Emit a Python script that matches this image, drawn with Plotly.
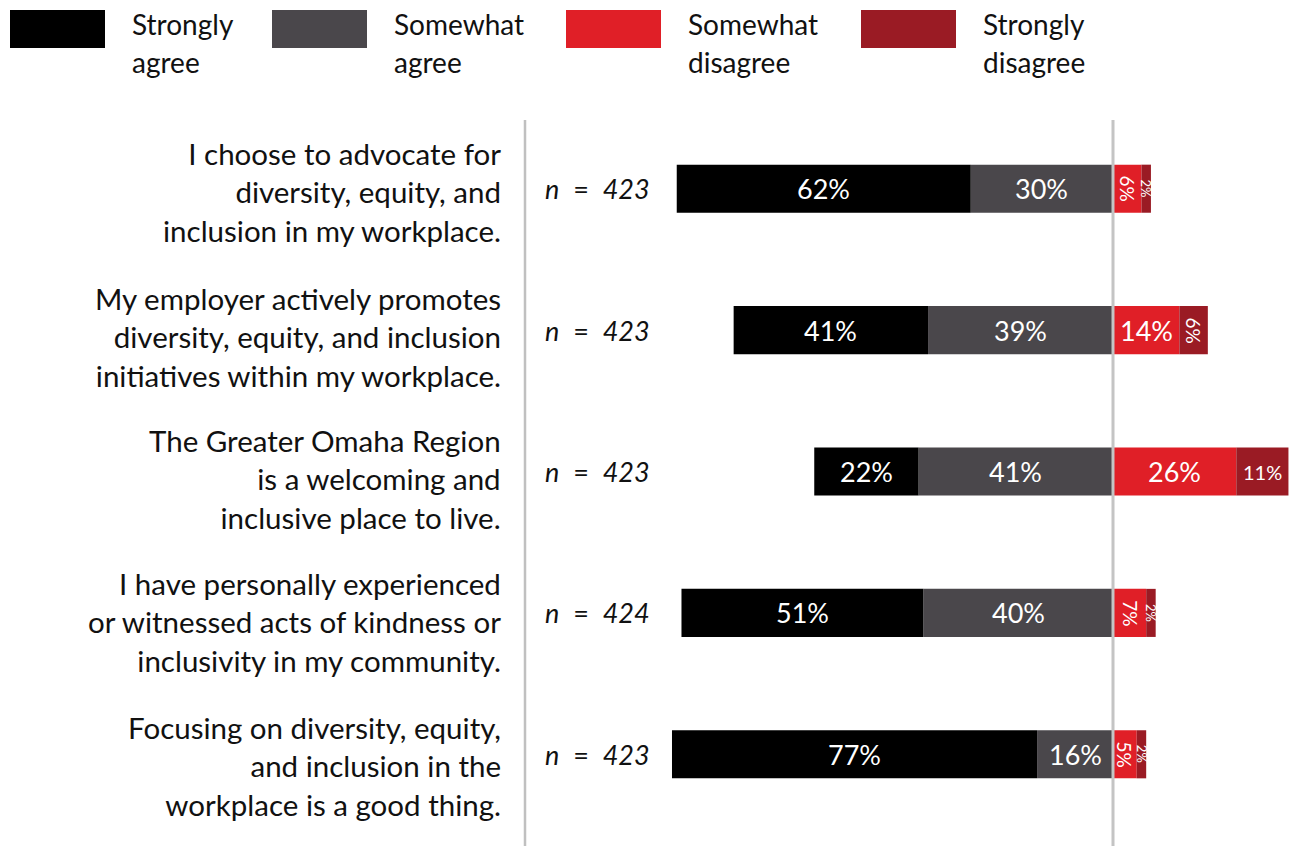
import plotly.graph_objects as go

statements = [
    "I choose to advocate for<br>diversity, equity, and<br>inclusion in my workplace.",
    "My employer actively promotes<br>diversity, equity, and inclusion<br>initiatives within my workplace.",
    "The Greater Omaha Region<br>is a welcoming and<br>inclusive place to live.",
    "I have personally experienced<br>or witnessed acts of kindness or<br>inclusivity in my community.",
    "Focusing on diversity, equity,<br>and inclusion in the<br>workplace is a good thing.",
]
n_values = [423, 423, 423, 424, 423]
strongly_agree = [62, 41, 22, 51, 77]
somewhat_agree = [30, 39, 41, 40, 16]
somewhat_disagree = [6, 14, 26, 7, 5]
strongly_disagree = [2, 6, 11, 2, 2]
legend_line1 = ["Strongly", "Somewhat", "Somewhat", "Strongly"]
legend_line2 = ["agree", "agree", "disagree", "disagree"]

C_SA = "#000000"
C_A = "#4a474b"
C_D = "#e01f27"
C_SD = "#9a1b24"
FONT = "Lato"

# the page body has an 8px margin; work in reference-pixel coordinates and shift
OFF = 8
W, H = 1298 - OFF, 846 - OFF
PLOT_L, PLOT_R, PLOT_T, PLOT_B = 525, 1298, 118, 825  # reference pixels
ML, MR, MT, MB = PLOT_L - OFF, 1298 - PLOT_R, PLOT_T - OFF, 846 - PLOT_B
PW, PH = PLOT_R - PLOT_L, PLOT_B - PLOT_T
CENTER = 1113
PX_PER_PCT = 4.742
LABEL_YSHIFT = [-3, -7, -7, -9, -12]


def px_x(p):
    return (p - PLOT_L) / PW


def px_y(p):
    return (PLOT_B - p) / PH


cats = list(range(len(statements)))
fig = go.Figure()
neg = lambda v: [-x for x in v]
for vals, col in [(neg(somewhat_agree), C_A), (neg(strongly_agree), C_SA),
                  (somewhat_disagree, C_D), (strongly_disagree, C_SD)]:
    fig.add_trace(go.Bar(y=cats, x=vals, orientation="h", marker=dict(color=col, line=dict(width=0)),
                         width=0.34, hoverinfo="skip"))

annotations = []


def pct_label(xc, yc, v):
    t = f"{v}%"
    if v >= 12:
        annotations.append(dict(x=xc, y=yc, text=t, showarrow=False, font=dict(family=FONT, size=27, color="white")))
    elif v >= 10:
        annotations.append(dict(x=xc, y=yc, text=t, showarrow=False, font=dict(family=FONT, size=20, color="white")))
    else:
        size = 13 if v <= 2 else 19
        annotations.append(dict(x=xc, y=yc, text=t, showarrow=False, textangle=90,
                                font=dict(family=FONT, size=size, color="white")))


for i in cats:
    a, sa, d, sd = somewhat_agree[i], strongly_agree[i], somewhat_disagree[i], strongly_disagree[i]
    pct_label(-a / 2, i, a)
    pct_label(-a - sa / 2, i, sa)
    pct_label(d / 2, i, d)
    pct_label(d + sd / 2, i, sd)
    annotations.append(dict(xref="paper", x=px_x(503), y=i, yref="y", yshift=LABEL_YSHIFT[i], text=statements[i],
                            showarrow=False, xanchor="right", align="right",
                            font=dict(family=FONT, size=29.5, color="#111111")))
    annotations.append(dict(xref="paper", x=px_x(597), y=i, yref="y", text=f"<i>n</i>  =  <i>{n_values[i]}</i>",
                            showarrow=False, xanchor="center", font=dict(family=FONT, size=27, color="#111111")))

shapes = []
leg_colors = [C_SA, C_A, C_D, C_SD]
leg_x = [10, 272, 566, 861]
for lx, col, l1, l2 in zip(leg_x, leg_colors, legend_line1, legend_line2):
    shapes.append(dict(type="rect", xref="paper", yref="paper", x0=px_x(lx), x1=px_x(lx + 95),
                       y0=px_y(48), y1=px_y(10), fillcolor=col, line=dict(width=0)))
    for txt, yc in [(l1, 24), (l2, 62)]:
        annotations.append(dict(xref="paper", yref="paper", x=px_x(lx + 121), y=px_y(yc), text=txt, showarrow=False,
                                xanchor="left", yanchor="middle", align="left", borderpad=0,
                                font=dict(family=FONT, size=28, color="#111111")))

shapes.append(dict(type="line", xref="paper", yref="paper", x0=0, x1=0, y0=px_y(846), y1=px_y(120),
                   line=dict(color="#c0c0c0", width=2.5)))
shapes.append(dict(type="line", xref="x", yref="paper", x0=0, x1=0, y0=px_y(846), y1=px_y(120),
                   line=dict(color="#c4c4c4", width=3)))

fig.update_layout(
    width=W, height=H, barmode="relative", showlegend=False,
    margin=dict(l=ML, r=MR, t=MT, b=MB),
    plot_bgcolor="white", paper_bgcolor="white",
    xaxis=dict(range=[-(CENTER - PLOT_L) / PX_PER_PCT, (PLOT_R - CENTER) / PX_PER_PCT], visible=False, fixedrange=True),
    yaxis=dict(range=[len(cats) - 0.5, -0.5], visible=False, fixedrange=True),
    annotations=annotations, shapes=shapes,
)
fig.write_html("out.html")
